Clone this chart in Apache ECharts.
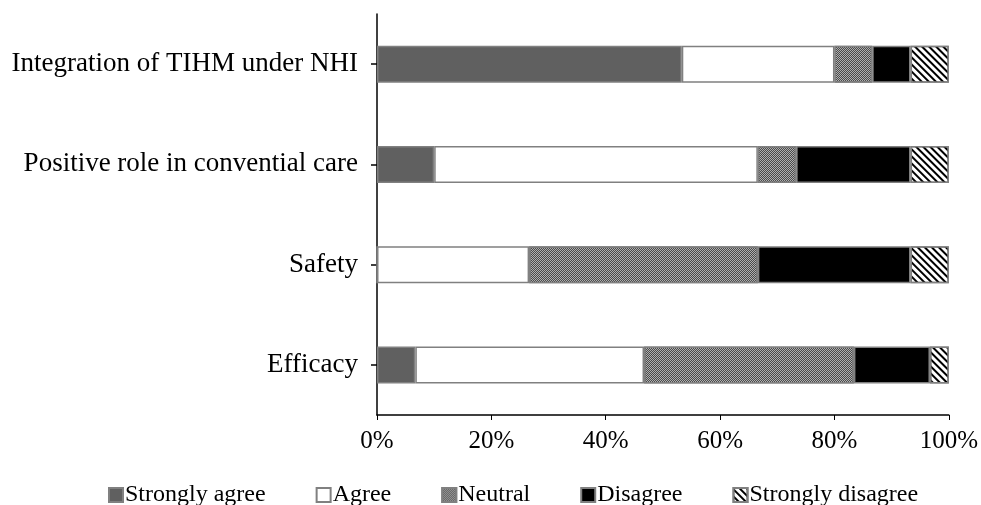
<!DOCTYPE html>
<html>
<head>
<meta charset="utf-8">
<script src="https://cdn.jsdelivr.net/npm/echarts@6/dist/echarts.min.js"></script>
<style>
  html, body { margin: 0; padding: 0; background: #fff; }
  #chart { width: 981px; height: 505px; }
</style>
</head>
<body>
<div id="chart"></div>
<script>
// bottom to top, as the y category axis draws them
const categories = ["Efficacy", "Safety", "Positive role in convential care", "Integration of TIHM under NHI"];
const seriesNames = ["Strongly agree", "Agree", "Neutral", "Disagree", "Strongly disagree"];
// percent of respondents
const stronglyAgree = [6.7, 0, 10, 53.3];
const agree = [40, 26.6, 56.6, 26.7];
const neutral = [36.7, 40, 6.7, 6.6];
const disagree = [13.3, 26.7, 20, 6.7];
const stronglyDisagree = [3.3, 6.7, 6.7, 6.7];

const FONT = "Liberation Serif";
const BORDER = "#808080";

const styles = [
  { color: "#606060" },
  { color: "#ffffff" },
  {
    color: "#b0b0b0",
    decal: { symbol: "rect", symbolSize: 1, color: "#4a4a4a", dashArrayX: [[1, 1], [0, 1, 1, 0]], dashArrayY: [1, 0] },
  },
  { color: "#000000" },
  {
    color: "#ffffff",
    decal: { symbol: "rect", symbolSize: 1, color: "#000000", dashArrayX: [1, 0], dashArrayY: [2, 2.4], rotation: Math.PI / 4 },
  },
];

const values = [stronglyAgree, agree, neutral, disagree, stronglyDisagree];

const chart = echarts.init(document.getElementById("chart"), null, { renderer: "canvas" });
chart.setOption({
  animation: false,
  backgroundColor: "#fff",
  textStyle: { fontFamily: FONT, color: "#000" },
  grid: { left: 377, right: 31, top: 14, bottom: 90 },
  legend: {
    data: seriesNames,
    bottom: -7,
    left: 103,
    itemWidth: 14,
    itemHeight: 14,
    itemGap: 50,
    icon: "rect",
    textStyle: { fontFamily: FONT, fontSize: 24, color: "#000", padding: [0, 0, 0, -3] },
  },
  xAxis: {
    type: "value",
    min: 0,
    max: 100,
    interval: 20,
    axisLine: { show: true, lineStyle: { color: "#000", width: 1.5 } },
    axisTick: { show: true, length: 5, lineStyle: { color: "#000" } },
    splitLine: { show: false },
    axisLabel: { formatter: "{value}%", fontFamily: FONT, fontSize: 25, color: "#000", margin: 14 },
  },
  yAxis: {
    type: "category",
    data: categories,
    axisLine: { show: true, lineStyle: { color: "#000", width: 1.5 } },
    axisTick: { show: true, length: 6, alignWithLabel: true, lineStyle: { color: "#000", width: 1.5 } },
    axisLabel: { fontFamily: FONT, fontSize: 27, color: "#000", margin: 19 },
  },
  series: seriesNames.map((name, i) => ({
    name,
    type: "bar",
    stack: "total",
    barWidth: 37,
    data: values[i],
    itemStyle: { ...styles[i], borderColor: BORDER, borderWidth: 1.5 },
  })),
});
</script>
</body>
</html>
